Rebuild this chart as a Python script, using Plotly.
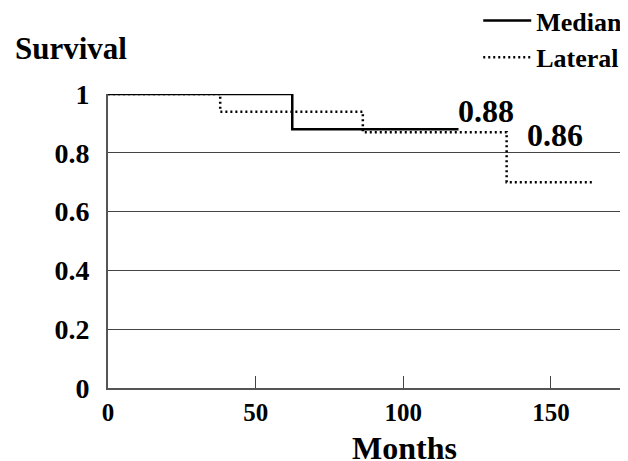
import plotly.graph_objects as go

# Data
median_months = [0, 62.4, 118.7]
median_surv = [1.0, 0.88, 0.88]
lateral_months = [0, 38.0, 86.3, 135.0, 164.0]
lateral_surv = [1.0, 0.94, 0.87, 0.70, 0.70]

x_ticks = [0, 50, 100, 150]
y_ticks = [0, 0.2, 0.4, 0.6, 0.8, 1.0]
y_tick_text = ["0", "0.2", "0.4", "0.6", "0.8", "1"]

labels = ["0.88", "0.86"]
label_x = [128.1, 151.4]
label_y = [0.943, 0.861]

FONT = "Liberation Serif"

fig = go.Figure()
fig.add_trace(go.Scatter(
    x=median_months, y=median_surv, mode="lines", name="<b>Median</b>",
    line=dict(color="black", width=2.5, shape="hv"), cliponaxis=False,
))
fig.add_trace(go.Scatter(
    x=lateral_months, y=lateral_surv, mode="lines", name="<b>Lateral</b>",
    line=dict(color="black", width=2.5, shape="hv", dash="2px,3px"), cliponaxis=False,
))

for t, x, y in zip(labels, label_x, label_y):
    fig.add_annotation(x=x, y=y, text="<b>%s</b>" % t, showarrow=False,
                       font=dict(family=FONT, size=32, color="black"),
                       xanchor="center", yanchor="middle")

fig.add_annotation(xref="paper", yref="paper", x=-0.183, y=1.155,
                   text="<b>Survival</b>", showarrow=False,
                   font=dict(family=FONT, size=31, color="black"),
                   xanchor="left", yanchor="middle")
fig.add_annotation(xref="paper", yref="paper", x=0.571, y=-0.205,
                   text="<b>Months</b>", showarrow=False,
                   font=dict(family=FONT, size=32, color="black"),
                   xanchor="center", yanchor="middle")

# The page body has an 8px default margin, so the figure is offset by 8px.
fig.update_layout(
    width=628, height=461,
    margin=dict(l=100, r=8, t=86, b=81, autoexpand=False),
    paper_bgcolor="white", plot_bgcolor="white",
    font=dict(family=FONT, color="black"),
    showlegend=True,
    legend=dict(x=0.712, y=1.33, xanchor="left", yanchor="top",
                font=dict(family=FONT, size=26, color="black"),
                bgcolor="rgba(0,0,0,0)", itemwidth=48,
                traceorder="normal"),
    xaxis=dict(range=[0, 176.1], tickvals=x_ticks,
               ticktext=["<b>%d</b>" % v for v in x_ticks],
               ticks="inside", ticklen=12, tickcolor="#444", tickwidth=1,
               showgrid=False, zeroline=False, automargin=False,
               showline=True, linecolor="#555", linewidth=2,
               tickfont=dict(family=FONT, size=25, color="black"),
               ticklabelstandoff=1),
    yaxis=dict(range=[0, 1.0], tickvals=y_ticks,
               ticktext=["<b>%s</b>" % s for s in y_tick_text],
               ticks="", showgrid=True, gridcolor="#444", gridwidth=1,
               zeroline=False, showline=True, linecolor="#555", linewidth=2,
               automargin=False,
               tickfont=dict(family=FONT, size=28, color="black"),
               ticklabelstandoff=11),
)

fig.write_html("out.html")
